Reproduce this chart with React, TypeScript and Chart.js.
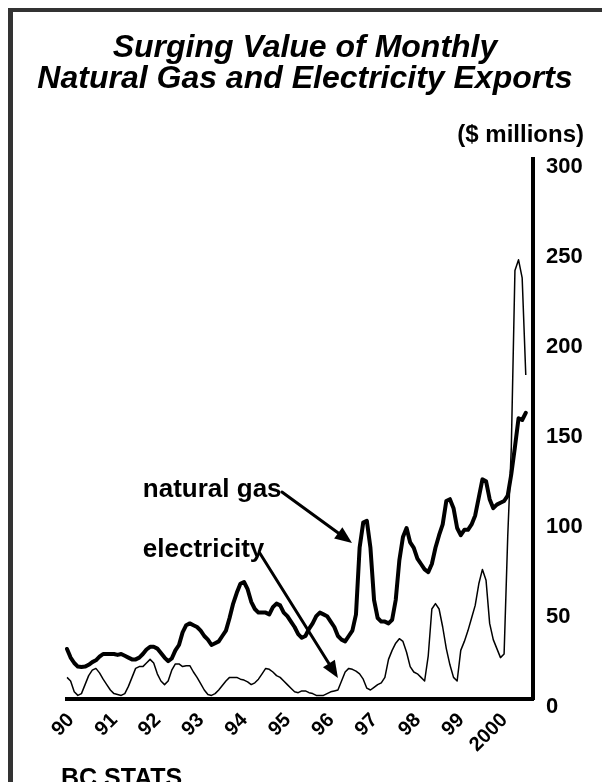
import React, { useEffect, useRef } from "react";
import { Chart, registerables } from "chart.js";

Chart.register(...registerables);

const TITLE_LINES = ["Surging Value of Monthly", "Natural Gas and Electricity Exports"];
const UNITS = "($ millions)";
const SOURCE = "BC STATS";

const YEARS = [1990, 1991, 1992, 1993, 1994, 1995, 1996, 1997, 1998, 1999, 2000];
const MONTH_NAMES = ["Jan", "Feb", "Mar", "Apr", "May", "Jun", "Jul", "Aug", "Sep", "Oct", "Nov", "Dec"];
const LAST_MONTH_2000 = 10; // axis runs to Oct 2000
const YEAR_TICK_LABELS = ["90", "91", "92", "93", "94", "95", "96", "97", "98", "99", "2000"];
const Y_TICKS = [0, 50, 100, 150, 200, 250, 300];

// Monthly natural gas exports, $ millions, Jan 1990 - Aug 2000
const GAS = [
  27.8, 23, 20, 18, 17.8, 18, 19, 20.5, 21.5, 23.5, 25, 25,
  25, 25, 24.5, 25, 24, 23, 22, 22, 23, 25, 27.5, 29,
  29, 28, 25.5, 23, 21, 22.5, 27, 30, 37, 41, 42, 41,
  40, 38, 35, 33, 30, 31, 32, 35, 38, 45, 53, 59,
  64, 65, 61, 54, 50, 48, 48, 48, 47, 51, 53, 52,
  48, 46, 43, 40, 36, 34, 35, 39, 42, 46, 48, 47,
  46, 43, 40, 35, 33, 32, 35, 38, 47, 84, 98, 99,
  84, 55, 45, 43, 43, 42, 44, 55, 77, 90, 95, 87,
  84, 78, 75, 72, 70.5, 75, 84, 91, 97, 110, 111, 106,
  95, 91, 94, 94, 97, 102, 112, 122, 121, 111, 106, 108,
  109, 110, 113, 125, 140, 156, 155, 159,
];

// Monthly electricity exports, $ millions, Jan 1990 - Aug 2000
const ELECTRICITY = [
  12, 10, 4, 2, 3, 8, 13, 16, 17, 14.5, 11, 8,
  5, 3, 2.5, 2, 3, 7, 12, 17, 18, 18, 20, 22,
  20, 14, 10, 8, 10, 16, 19.5, 19.5, 18, 18.5, 18.5, 15,
  12, 8.5, 5, 2.5, 2, 3, 5, 7.5, 10, 12, 12, 12,
  11, 10.5, 9.5, 8, 9, 11, 14, 17, 16.5, 15, 13, 12,
  10, 8, 6, 4, 3.5, 4.5, 4.5, 3.5, 3, 2, 2, 2,
  3, 4, 4.5, 5, 10, 15, 17, 16.5, 15.5, 14, 11, 6,
  5, 6.5, 8, 9, 12, 22, 27, 31, 33.5, 32, 26, 18,
  15, 14, 12, 10, 24, 50, 53, 50, 40, 28, 19, 12,
  10, 27, 32, 38, 45, 52, 64, 72, 66, 42, 33, 28,
  23, 25, 90, 140, 238, 244, 234, 180,
];

// Annotation labels and arrows, in data coordinates (month index, $ millions)
const GAS_LABEL = { text: "natural gas", x: 21, y: 112 };
const ELEC_LABEL = { text: "electricity", x: 21, y: 79 };
const GAS_ARROW = { from: [59.5, 115], to: [78.9, 86.7] };
const ELEC_ARROW = { from: [53.4, 81], to: [75.0, 11.7] };

const MONTH_LABELS: string[] = [];
YEARS.forEach((yr) => {
  MONTH_NAMES.forEach((mn, i) => {
    if (yr < 2000 || i < LAST_MONTH_2000) MONTH_LABELS.push(`${mn} ${yr}`);
  });
});

const FONT = '"Liberation Sans", Arial, Helvetica, sans-serif';

function drawArrow(ctx: CanvasRenderingContext2D, x1: number, y1: number, x2: number, y2: number) {
  const ang = Math.atan2(y2 - y1, x2 - x1);
  const headLen = 17;
  const headHalf = 7;
  const bx = x2 - Math.cos(ang) * headLen;
  const by = y2 - Math.sin(ang) * headLen;
  ctx.save();
  ctx.strokeStyle = "#000";
  ctx.fillStyle = "#000";
  ctx.lineWidth = 3;
  ctx.lineCap = "round";
  ctx.beginPath();
  ctx.moveTo(x1, y1);
  ctx.lineTo(bx, by);
  ctx.stroke();
  ctx.beginPath();
  ctx.moveTo(x2, y2);
  ctx.lineTo(bx + Math.sin(ang) * headHalf, by - Math.cos(ang) * headHalf);
  ctx.lineTo(bx - Math.sin(ang) * headHalf, by + Math.cos(ang) * headHalf);
  ctx.closePath();
  ctx.fill();
  ctx.restore();
}

const decorPlugin = {
  id: "decor",
  beforeDraw(chart: any) {
    const { ctx, width, height } = chart;
    ctx.save();
    ctx.fillStyle = "#fff";
    ctx.fillRect(0, 0, width, height);
    ctx.fillStyle = "#333";
    ctx.fillRect(8, 8, width - 8, 4);
    ctx.fillRect(8, 8, 5, height - 8);
    ctx.restore();
  },
  afterDraw(chart: any) {
    const { ctx, chartArea } = chart;
    const xs = chart.scales.x;
    const ys = chart.scales.y;
    ctx.save();
    ctx.fillStyle = "#000";

    // Title
    ctx.font = `italic bold 32px ${FONT}`;
    ctx.textAlign = "center";
    ctx.textBaseline = "alphabetic";
    ctx.fillText(TITLE_LINES[0], 305, 57);
    ctx.fillText(TITLE_LINES[1], 305, 88);

    // Units
    ctx.font = `bold 24px ${FONT}`;
    ctx.textAlign = "right";
    ctx.fillText(UNITS, 584, 142);

    // Y tick labels
    ctx.font = `bold 22px ${FONT}`;
    ctx.textAlign = "left";
    ctx.textBaseline = "middle";
    Y_TICKS.forEach((v) => {
      ctx.fillText(String(v), chartArea.right + 13, ys.getPixelForValue(v) + 8);
    });

    // X tick labels (rotated)
    ctx.font = `bold 20px ${FONT}`;
    YEAR_TICK_LABELS.forEach((lab, k) => {
      const px = xs.getPixelForValue(k * 12);
      ctx.save();
      ctx.translate(px + 4, chartArea.bottom + 18);
      ctx.rotate(-Math.PI / 4);
      ctx.textAlign = "right";
      ctx.textBaseline = "middle";
      ctx.fillText(lab, 0, 0);
      ctx.restore();
    });

    // Annotations
    ctx.font = `bold 26px ${FONT}`;
    ctx.textAlign = "left";
    ctx.textBaseline = "alphabetic";
    [GAS_LABEL, ELEC_LABEL].forEach((l) => {
      ctx.fillText(l.text, xs.getPixelForValue(l.x), ys.getPixelForValue(l.y));
    });
    [GAS_ARROW, ELEC_ARROW].forEach((a) => {
      drawArrow(
        ctx,
        xs.getPixelForValue(a.from[0]),
        ys.getPixelForValue(a.from[1]),
        xs.getPixelForValue(a.to[0]),
        ys.getPixelForValue(a.to[1])
      );
    });

    // Source
    ctx.font = `bold 25px ${FONT}`;
    ctx.fillText(SOURCE, 61, 786);
    ctx.restore();
  },
};

export default function App() {
  const ref = useRef<HTMLCanvasElement | null>(null);
  useEffect(() => {
    if (!ref.current) return;
    const chart = new Chart(ref.current, {
      type: "line",
      data: {
        labels: MONTH_LABELS,
        datasets: [
          {
            label: "natural gas",
            data: GAS,
            borderColor: "#000",
            borderWidth: 4,
            pointRadius: 0,
            tension: 0,
            fill: false,
            borderJoinStyle: "round",
            borderCapStyle: "round",
          },
          {
            label: "electricity",
            data: ELECTRICITY,
            borderColor: "#000",
            borderWidth: 1.5,
            pointRadius: 0,
            tension: 0,
            fill: false,
            borderJoinStyle: "round",
          },
        ],
      },
      options: {
        animation: false,
        responsive: false,
        events: [],
        layout: { padding: { left: 67, top: 159, right: 0, bottom: 0 } },
        plugins: { legend: { display: false }, title: { display: false }, tooltip: { enabled: false } },
        scales: {
          x: {
            type: "category",
            grid: { display: false, drawTicks: false },
            border: { display: true, color: "#000", width: 4 },
            ticks: { display: false },
            afterFit: (s: any) => {
              s.height = 83;
            },
          },
          y: {
            position: "right",
            min: 0,
            max: 300,
            grid: { display: false, drawTicks: false },
            border: { display: true, color: "#000", width: 4 },
            ticks: { display: false, stepSize: 50 },
            afterFit: (s: any) => {
              s.width = 69;
            },
          },
        },
      },
      plugins: [decorPlugin],
    });
    return () => chart.destroy();
  }, []);
  return (
    <canvas
      ref={ref}
      width={602}
      height={782}
      style={{ position: "fixed", left: 0, top: 0, width: 602, height: 782, display: "block" }}
    />
  );
}
